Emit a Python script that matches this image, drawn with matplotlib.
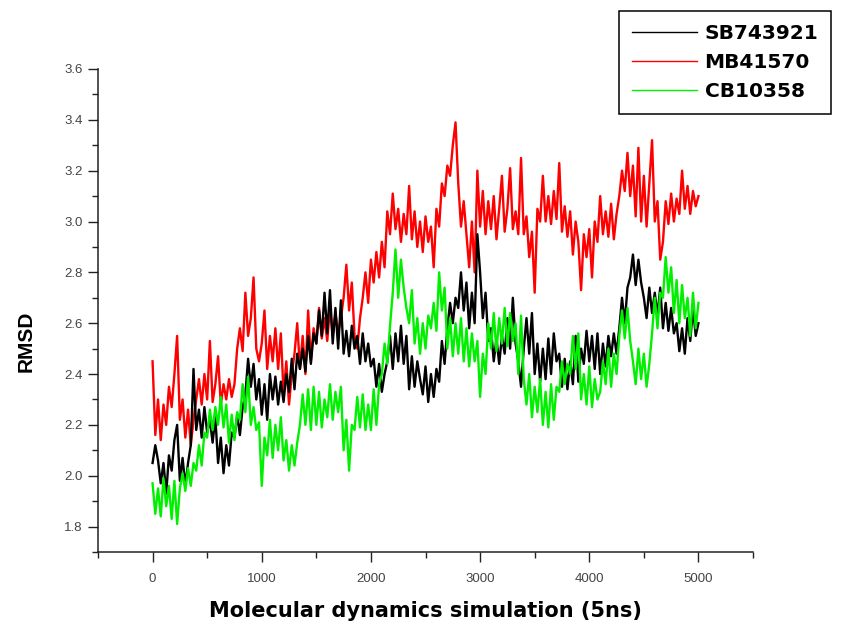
import matplotlib.pyplot as plt
from matplotlib.ticker import MultipleLocator
from matplotlib.lines import Line2D
import numpy as np

# RMSD, one value every 25 frames (0..5000)
sb743921 = [
    2.05, 2.12, 2.06, 1.97, 2.05, 1.93, 2.08, 2.02,
    2.14, 2.20, 1.98, 2.07, 1.96, 2.05, 2.12, 2.42,
    2.18, 2.26, 2.15, 2.27, 2.17, 2.22, 2.13, 2.23,
    2.05, 2.15, 2.01, 2.12, 2.04, 2.17, 2.15, 2.24,
    2.16, 2.27, 2.32, 2.46, 2.35, 2.44, 2.30, 2.38,
    2.24, 2.36, 2.22, 2.40, 2.30, 2.39, 2.28, 2.37,
    2.29, 2.40, 2.33, 2.46, 2.34, 2.48, 2.42, 2.50,
    2.41, 2.55, 2.44, 2.56, 2.52, 2.65, 2.55, 2.72,
    2.56, 2.73, 2.52, 2.66, 2.50, 2.69, 2.48, 2.57,
    2.47, 2.59, 2.50, 2.55, 2.44, 2.56, 2.45, 2.52,
    2.43, 2.46, 2.35, 2.44, 2.33, 2.40, 2.45, 2.55,
    2.42, 2.56, 2.45, 2.59, 2.44, 2.55, 2.34, 2.47,
    2.35, 2.45, 2.38, 2.32, 2.43, 2.29, 2.40, 2.31,
    2.42, 2.37, 2.53, 2.44, 2.58, 2.68, 2.60, 2.70,
    2.66, 2.80, 2.65, 2.76, 2.58, 2.72, 2.60, 2.95,
    2.80, 2.62, 2.72, 2.53, 2.58, 2.45, 2.54, 2.44,
    2.55, 2.48, 2.62, 2.50, 2.70, 2.52, 2.45, 2.35,
    2.50, 2.62, 2.48, 2.64, 2.40, 2.52, 2.37, 2.50,
    2.38, 2.54, 2.40, 2.56, 2.45, 2.48, 2.35, 2.46,
    2.34, 2.45, 2.36, 2.55, 2.37, 2.50, 2.44, 2.57,
    2.45, 2.55, 2.42, 2.56, 2.40, 2.52, 2.43, 2.55,
    2.47, 2.56, 2.48, 2.58, 2.70, 2.60, 2.74, 2.78,
    2.87, 2.75, 2.85, 2.76, 2.70, 2.62, 2.74, 2.64,
    2.72, 2.63, 2.74, 2.58, 2.68, 2.57, 2.66, 2.56,
    2.60, 2.49, 2.58, 2.48, 2.62, 2.53, 2.66, 2.55,
    2.60,
]
mb41570 = [
    2.45, 2.16, 2.30, 2.14, 2.28, 2.20, 2.35, 2.27,
    2.40, 2.55, 2.22, 2.30, 2.15, 2.26, 2.12, 2.22,
    2.30, 2.38, 2.28, 2.40, 2.30, 2.53, 2.29, 2.36,
    2.47, 2.28, 2.36, 2.30, 2.38, 2.31, 2.36, 2.50,
    2.58, 2.49, 2.72, 2.55, 2.62, 2.78, 2.50, 2.45,
    2.52, 2.65, 2.42, 2.55, 2.45, 2.58, 2.42, 2.56,
    2.32, 2.45, 2.28, 2.40, 2.48, 2.60, 2.42, 2.55,
    2.40, 2.65, 2.45, 2.58, 2.52, 2.66, 2.54, 2.62,
    2.53, 2.66, 2.55, 2.64, 2.56, 2.62, 2.70, 2.83,
    2.65, 2.76, 2.55, 2.50, 2.62, 2.70, 2.80, 2.68,
    2.85, 2.76, 2.88, 2.78, 2.92, 2.82, 3.04, 2.95,
    3.11, 2.97, 3.05, 2.92, 3.03, 2.95, 3.14, 2.93,
    3.04, 2.90, 3.00, 2.88, 3.02, 2.92, 2.98, 2.82,
    3.05, 2.98, 3.15, 3.10, 3.22, 3.18, 3.30, 3.39,
    3.15, 2.98, 3.08, 2.95, 2.82, 3.00, 2.80, 3.20,
    2.98, 3.12, 2.95, 3.08, 2.97, 3.10, 2.93, 3.05,
    3.18, 2.96, 3.05, 3.21, 2.97, 3.04, 2.95, 3.25,
    2.95, 3.02, 2.86, 2.96, 2.72, 3.05, 3.00, 3.18,
    3.00, 3.10, 2.99, 3.12, 3.01, 3.23, 2.96, 3.06,
    2.94, 3.04, 2.87, 3.00, 2.92, 2.73, 2.95, 2.86,
    2.97, 2.78, 3.00, 2.92, 3.10, 2.95, 3.04, 2.94,
    3.07, 2.93, 3.03, 3.10, 3.20, 3.12, 3.27, 3.10,
    3.22, 3.02, 3.29, 3.00, 3.18, 2.98, 3.15, 3.32,
    3.00, 3.08, 2.85, 2.92, 3.08, 2.99, 3.11, 3.00,
    3.09, 3.03, 3.20, 3.05, 3.14, 3.03, 3.12, 3.06,
    3.10,
]
cb10358 = [
    1.97, 1.85, 1.95, 1.84, 1.99, 1.88, 1.96, 1.83,
    1.98, 1.81, 1.95, 2.01, 1.94, 2.03, 1.96, 2.05,
    2.02, 2.12, 2.04, 2.17, 2.15, 2.26, 2.18, 2.27,
    2.20, 2.31, 2.19, 2.28, 2.13, 2.24, 2.14, 2.25,
    2.22, 2.36, 2.25, 2.39, 2.20, 2.27, 2.18, 2.21,
    1.96, 2.15, 2.08, 2.22, 2.07, 2.20, 2.10, 2.23,
    2.06, 2.14, 2.02, 2.12, 2.04, 2.13, 2.20, 2.32,
    2.20, 2.34, 2.18, 2.35, 2.20, 2.33, 2.19, 2.30,
    2.23, 2.36, 2.22, 2.33, 2.25, 2.35, 2.10, 2.22,
    2.02, 2.20, 2.18, 2.31, 2.19, 2.32, 2.18, 2.28,
    2.18, 2.34, 2.20, 2.36, 2.40, 2.52, 2.44, 2.59,
    2.72, 2.89, 2.70, 2.85, 2.74, 2.66, 2.60, 2.73,
    2.52, 2.62, 2.48, 2.60, 2.50, 2.63, 2.58, 2.68,
    2.57, 2.80, 2.65, 2.74, 2.50, 2.62, 2.47, 2.60,
    2.48, 2.62, 2.45, 2.58, 2.43, 2.56, 2.45, 2.53,
    2.31, 2.48, 2.40, 2.60, 2.50, 2.64, 2.49, 2.62,
    2.52, 2.66, 2.51, 2.64, 2.53, 2.60, 2.40, 2.63,
    2.38, 2.28, 2.40, 2.23, 2.35, 2.25, 2.38, 2.20,
    2.33, 2.19, 2.36, 2.22, 2.35, 2.33, 2.45, 2.36,
    2.44, 2.40, 2.55, 2.42, 2.56, 2.30, 2.40, 2.28,
    2.43, 2.27, 2.38, 2.30, 2.33, 2.45, 2.36, 2.50,
    2.35, 2.48, 2.40, 2.55, 2.65, 2.54, 2.66, 2.53,
    2.45, 2.36, 2.50, 2.38, 2.48, 2.35, 2.44, 2.56,
    2.70, 2.58, 2.72, 2.70, 2.86, 2.72, 2.82, 2.64,
    2.77, 2.60, 2.75, 2.62, 2.70, 2.55, 2.72, 2.58,
    2.68,
]
frames = np.arange(0, 5001, 25)
labels = ["SB743921", "MB41570", "CB10358"]
colors = ["black", "#ff0000", "#00f000"]

plt.rcParams['font.family'] = ['Liberation Sans', 'DejaVu Sans']

fig = plt.figure(figsize=(8.41, 6.33), dpi=100)
ax = fig.add_axes([0.1165, 0.128, 0.7789, 0.763])

ax.plot(frames, mb41570, color=colors[1], lw=1.7, zorder=2)
ax.plot(frames, sb743921, color=colors[0], lw=1.7, zorder=3)
ax.plot(frames, cb10358, color=colors[2], lw=1.7, zorder=4)

ax.set_xlim(-500, 5500)
ax.set_ylim(1.7, 3.6)
ax.xaxis.set_major_locator(MultipleLocator(1000))
ax.xaxis.set_minor_locator(MultipleLocator(500))
ax.yaxis.set_major_locator(MultipleLocator(0.2))
ax.yaxis.set_minor_locator(MultipleLocator(0.1))
ax.yaxis.set_major_formatter(plt.FormatStrFormatter('%.1f'))

for side in ["top", "right"]:
    ax.spines[side].set_visible(False)
for side in ["left", "bottom"]:
    ax.spines[side].set_linewidth(1.1)
    ax.spines[side].set_color("#222222")

ax.tick_params(which="major", direction="out", length=7, width=1, colors="#222222")
ax.tick_params(which="minor", direction="out", length=4, width=1, colors="#222222")
ax.tick_params(axis="x", which="major", pad=8, labelsize=9.5, labelcolor="#444444")
ax.tick_params(axis="y", which="major", pad=4, labelsize=9.5, labelcolor="#444444")

ax.set_xlabel("Molecular dynamics simulation (5ns)", fontsize=15, fontweight="bold",
              family="DejaVu Sans", labelpad=12)
ax.set_ylabel("RMSD", fontsize=15, fontweight="bold")
ax.yaxis.set_label_coords(-0.095, 0.437)

handles = [Line2D([], [], color=c, lw=1) for c in colors]
leg = fig.legend(handles, labels, loc="upper left", bbox_to_anchor=(619 / 841, 1 - 11 / 633),
                 borderaxespad=0,
                 prop={"weight": "bold", "size": 14.5, "family": "DejaVu Sans"},
                 frameon=True, fancybox=False, edgecolor="black", framealpha=1,
                 handlelength=3.2, handletextpad=0.4, labelspacing=0.5, borderpad=0.65)
leg.get_frame().set_linewidth(1.1)

fig.savefig("out.png", dpi=100)
